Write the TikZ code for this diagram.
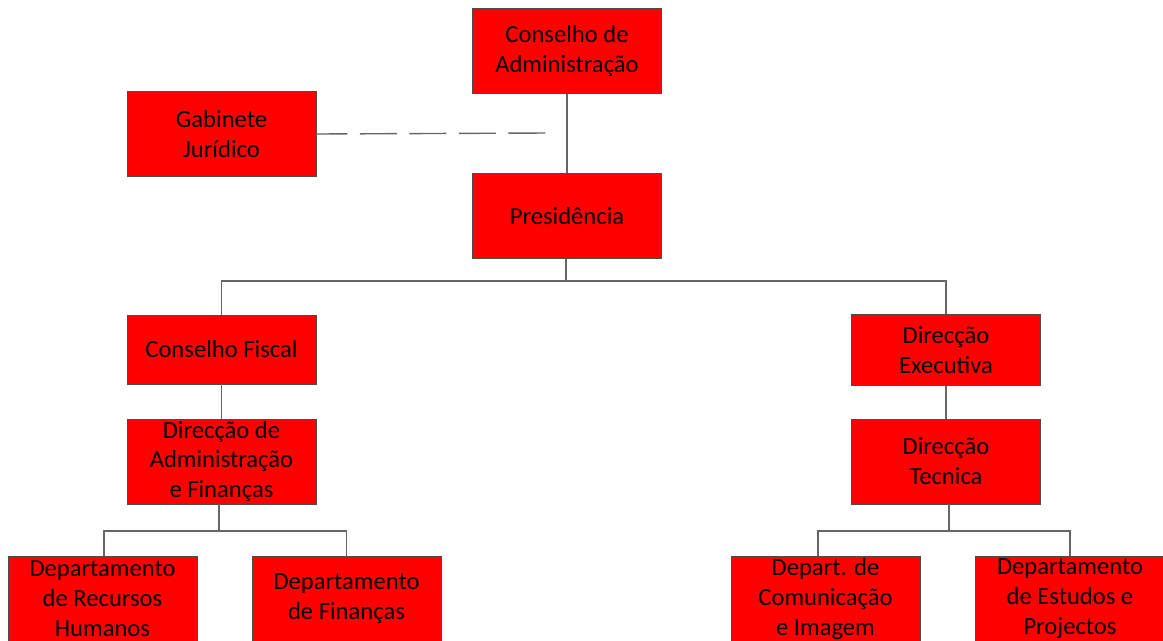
\documentclass[tikz,border=0pt]{standalone}
\usepackage{fontspec}
\setmainfont{Carlito}
\usetikzlibrary{positioning}
\tikzset{
    orgbox/.style={rectangle, draw=black!70, fill=red, line width=0.5pt, minimum width=3.78cm, minimum height=1.7cm, align=center, inner sep=0pt, font=\fontsize{14}{17}\selectfont},
    orgflat/.style={orgbox, minimum height=1.42cm},
    conn/.style={draw=black!60, line width=0.8pt},
    dashconn/.style={conn, dash pattern=on 0.74cm off 0.25cm, dash phase=0.12cm},
}

\begin{document}
\begin{tikzpicture}[x=0.02cm, y=-0.02cm]
    \clip (0,0) rectangle (1163,640);

    % Top
    \node[orgbox] (cadmin) at (567,51) {Conselho de\\Administração};
    \node[orgbox] (gabinete) at (221.5,134) {Gabinete\\Jurídico};
    \node[orgbox] (pres) at (567,216) {Presidência};

    % Left branch
    \node[orgflat, minimum height=1.38cm] (cfiscal) at (221.5,349.5) {Conselho Fiscal};
    \node[orgbox] (daf) at (221.5,461.5) {Direcção de\\Administração\\e Finanças};
    \node[orgbox] (deprh) at (102.5,599) {Departamento\\de Recursos\\Humanos};
    \node[orgbox] (depfin) at (346.5,599) {Departamento\\de Finanças};

    % Right branch
    \node[orgflat] (dexec) at (946,350) {Direcção\\Executiva};
    \node[orgbox] (dtec) at (946,461.5) {Direcção\\Tecnica};
    \node[orgbox] (depcom) at (825.5,599) {Depart. de\\Comunicação\\e Imagem};
    \node[orgbox] (depest) at (1070,599) {Departamento\\de Estudos e\\Projectos};

    % Bus points
    \coordinate (busp) at (566,281);
    \coordinate (busl) at (219,531);
    \coordinate (busr) at (949,531);
    \coordinate (gabend) at (546,133);

    % Connectors
    \draw[conn] (cadmin) -- (pres);
    \draw[dashconn] (gabinete.east) -- (gabend);
    \draw[conn] (pres.south -| busp) -- (busp);
    \draw[conn] (busp) -| (cfiscal.north);
    \draw[conn] (busp) -| (dexec.north);
    \draw[conn] (cfiscal) -- (daf);
    \draw[conn] (dexec) -- (dtec);
    \draw[conn] (daf.south -| busl) -- (busl);
    \draw[conn] (busl) -| ([xshift=1.5*0.02cm]deprh.north);
    \draw[conn] (busl) -| (depfin.north);
    \draw[conn] (dtec.south -| busr) -- (busr);
    \draw[conn] (busr) -| ([xshift=-7.5*0.02cm]depcom.north);
    \draw[conn] (busr) -| (depest.north);
\end{tikzpicture}
\end{document}
